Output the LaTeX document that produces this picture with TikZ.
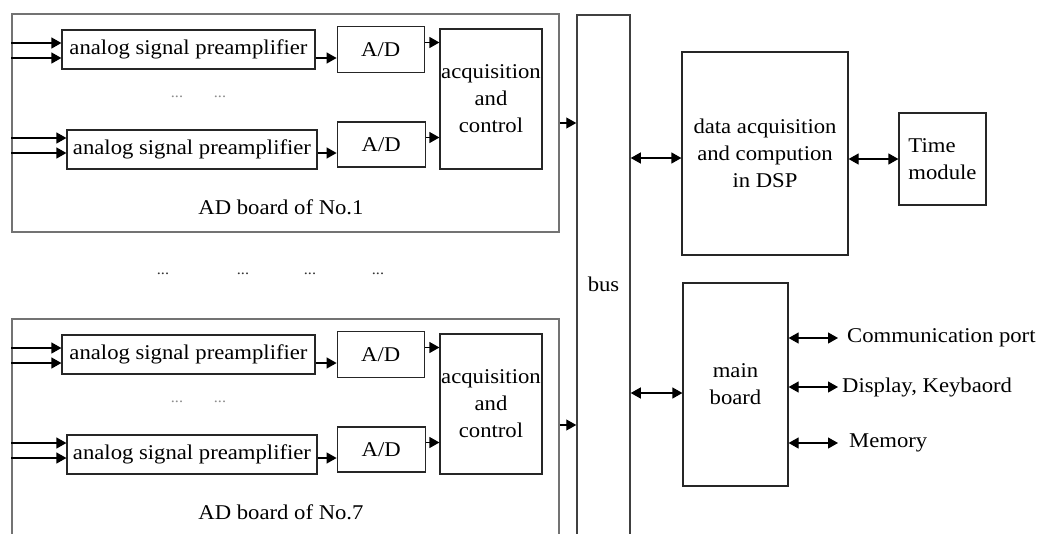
\documentclass[tikz,border=0pt]{standalone}
\usepackage{fontspec}
\setmainfont[FakeStretch=1.08]{Liberation Serif}
\usepackage{tikz}
\usetikzlibrary{arrows.meta, positioning, calc}
\tikzset{block/.style={rectangle,draw=black!85,line width=1.2pt,align=center,inner sep=1pt,font=\fontsize{21}{27}\selectfont},
         board/.style={rectangle,draw=black!55,line width=1.5pt},
         txt/.style={inner sep=0pt,font=\fontsize{21}{27}\selectfont},
         dots/.style={inner sep=0pt,font=\fontsize{15}{15}\selectfont},
         arrow/.style={-{Triangle[length=10pt,width=11pt]},line width=1.2pt},
         biarrow/.style={{Triangle[length=10pt,width=11pt]}-{Triangle[length=10pt,width=11pt]},line width=1.2pt}}

\begin{document}
\begin{tikzpicture}[x=1pt,y=-1pt]
    \useasboundingbox (0,0) rectangle (1041,533);
    \clip (0,0) rectangle (1041,533);
    % AD board of No.1
    \node (board1) [board, minimum width=547pt, minimum height=218pt] at (285.5,123) {};
    \node (pre11) [block, minimum width=253pt, minimum height=39pt] at (188.5,49.5) {analog signal preamplifier};
    \node (pre12) [block, minimum width=250pt, minimum height=39pt] at (192,149.5) {analog signal preamplifier};
    \node (ad11) [block, minimum width=87pt, minimum height=46pt, right=21pt of pre11] {A/D};
    \node (ad12) [block, minimum width=88pt, minimum height=45pt, right=19pt of pre12, yshift=5pt] {A/D};
    \node (acq1) [block, minimum width=102pt, minimum height=140pt] at (491,99) {acquisition\\and\\control};
    \node (dots11) [dots, text=black!45] at (177,97) {...};
    \node (dots12) [dots, text=black!45] at (220,97) {...};
    \node (name1) [txt] at (281,207) {AD board of No.1};
    \draw[arrow] ([yshift=6.5pt]pre11.west -| board1.west) -- ([yshift=6.5pt]pre11.west);
    \draw[arrow] ([yshift=-8.5pt]pre11.west -| board1.west) -- ([yshift=-8.5pt]pre11.west);
    \draw[arrow] ([yshift=11.5pt]pre12.west -| board1.west) -- ([yshift=11.5pt]pre12.west);
    \draw[arrow] ([yshift=-3.5pt]pre12.west -| board1.west) -- ([yshift=-3.5pt]pre12.west);
    \draw[arrow] ([yshift=-8.5pt]pre11.east) -- ([yshift=-8.5pt]pre11.east -| ad11.west);
    \draw[arrow] ([yshift=-3.5pt]pre12.east) -- ([yshift=-3.5pt]pre12.east -| ad12.west);
    \draw[arrow] ([yshift=7pt]ad11.east) -- ([yshift=7pt]ad11.east -| acq1.west);
    \draw[arrow] ([yshift=7pt]ad12.east) -- ([yshift=7pt]ad12.east -| acq1.west);

    % boards No.2 ... No.6 left out
    \node (gap1) [dots, text=black!80] at (163,274) {...};
    \node (gap2) [dots, text=black!80] at (243,274) {...};
    \node (gap3) [dots, text=black!80] at (310,274) {...};
    \node (gap4) [dots, text=black!80] at (378,274) {...};

    % AD board of No.7 (runs off the bottom)
    \node (board7) [board, minimum width=547pt, minimum height=218pt] at (285.5,428) {};
    \node (pre71) [block, minimum width=253pt, minimum height=39pt] at (188.5,354.5) {analog signal preamplifier};
    \node (pre72) [block, minimum width=250pt, minimum height=39pt] at (192,454.5) {analog signal preamplifier};
    \node (ad71) [block, minimum width=87pt, minimum height=46pt, right=21pt of pre71] {A/D};
    \node (ad72) [block, minimum width=88pt, minimum height=45pt, right=19pt of pre72, yshift=5pt] {A/D};
    \node (acq7) [block, minimum width=102pt, minimum height=140pt] at (491,404) {acquisition\\and\\control};
    \node (dots71) [dots, text=black!45] at (177,402) {...};
    \node (dots72) [dots, text=black!45] at (220,402) {...};
    \node (name7) [txt] at (281,512) {AD board of No.7};
    \draw[arrow] ([yshift=6.5pt]pre71.west -| board7.west) -- ([yshift=6.5pt]pre71.west);
    \draw[arrow] ([yshift=-8.5pt]pre71.west -| board7.west) -- ([yshift=-8.5pt]pre71.west);
    \draw[arrow] ([yshift=11.5pt]pre72.west -| board7.west) -- ([yshift=11.5pt]pre72.west);
    \draw[arrow] ([yshift=-3.5pt]pre72.west -| board7.west) -- ([yshift=-3.5pt]pre72.west);
    \draw[arrow] ([yshift=-8.5pt]pre71.east) -- ([yshift=-8.5pt]pre71.east -| ad71.west);
    \draw[arrow] ([yshift=-3.5pt]pre72.east) -- ([yshift=-3.5pt]pre72.east -| ad72.west);
    \draw[arrow] ([yshift=7pt]ad71.east) -- ([yshift=7pt]ad71.east -| acq7.west);
    \draw[arrow] ([yshift=7pt]ad72.east) -- ([yshift=7pt]ad72.east -| acq7.west);

    % bus, boards feed into it
    \node (bus) [board, draw=black!75, minimum width=53pt, minimum height=540pt, anchor=north, font=\fontsize{21}{27}\selectfont] at (603.5,14) {bus};
    \draw[arrow] (board1.east) -- (board1.east -| bus.west);
    \draw[arrow] ([yshift=3pt]board7.east) -- ([yshift=3pt]board7.east -| bus.west);

    % DSP side
    \node (dsp) [block, minimum width=166pt, minimum height=203pt] at (765,153.5) {data acquisition\\and compution\\in DSP};
    \node (time) [block, minimum width=87pt, minimum height=92pt, align=left] at (942.5,159) {Time\\module};
    \draw[biarrow] ([yshift=-4.5pt]dsp.west -| bus.east) -- ([yshift=-4.5pt]dsp.west);
    \draw[biarrow] (dsp.east |- time.west) -- (time.west);

    % main board and its ports
    \node (main) [block, minimum width=105pt, minimum height=203pt] at (735.5,384.5) {main\\board};
    \node (comm) [txt, anchor=west] at (847,338) {Communication port};
    \node (disp) [txt, anchor=west] at (842,387) {Display, Keybaord};
    \node (mem) [txt, anchor=west] at (849,443) {Memory};
    \draw[biarrow] ([yshift=-8.5pt]main.west -| bus.east) -- ([yshift=-8.5pt]main.west);
    \draw[biarrow] (main.east |- comm.west) -- ([xshift=-9pt]comm.west);
    \draw[biarrow] (main.east |- disp.west) -- ([xshift=-4pt]disp.west);
    \draw[biarrow] (main.east |- mem.west) -- ([xshift=-11pt]mem.west);
  \end{tikzpicture}
\end{document}
